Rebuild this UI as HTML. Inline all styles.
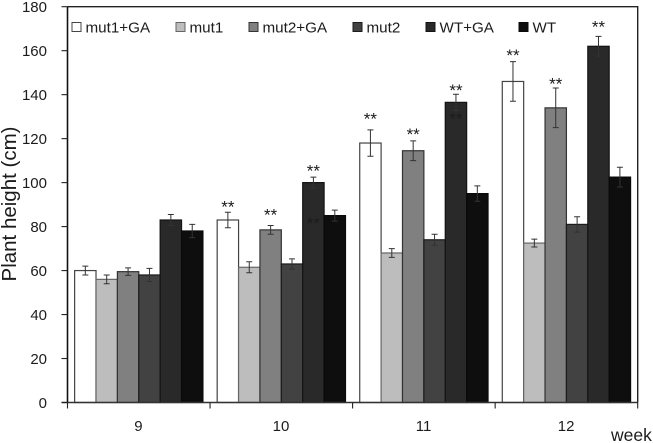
<!DOCTYPE html>
<html lang="en">
<head>
<meta charset="utf-8">
<title>Plant height chart</title>
<style>
html,body{margin:0;padding:0;background:#fff;width:653px;height:443px;overflow:hidden}
svg{display:block;filter:blur(0.35px)}
text{font-family:"Liberation Sans",sans-serif;fill:#1c1c1c}
</style>
</head>
<body>
<svg id="chart" width="653" height="443" viewBox="0 0 653 443" xmlns="http://www.w3.org/2000/svg">
  <g id="bars"></g>
  <g id="errors"></g>
  <g id="stars"></g>
  <g id="axes"></g>
  <g id="legend"></g>
  <text transform="translate(16,204) rotate(-90)" text-anchor="middle" font-size="20.5">Plant height (cm)</text>
  <text x="611" y="441" font-size="17.5">week</text>
</svg>
<script>
const weeks = ['9', '10', '11', '12'];
const seriesNames = ['mut1+GA', 'mut1', 'mut2+GA', 'mut2', 'WT+GA', 'WT'];
const mut1GA = [60, 83, 118, 146];
const mut1 = [56, 61.5, 68, 72.5];
const mut2GA = [59.5, 78.5, 114.5, 134];
const mut2 = [58, 63, 74, 81];
const wtGA = [83, 100, 136.5, 162];
const wt = [78, 85, 95, 102.5];
const mut1GAErr = [2, 3.5, 6, 9];
const mut1Err = [2, 2.5, 2, 1.8];
const mut2GAErr = [1.7, 2, 4.5, 9];
const mut2Err = [3, 2.3, 2.5, 3.5];
const wtGAErr = [2.5, 2.5, 3.7, 4.5];
const wtErr = [3, 2.5, 3.5, 4.5];
const yTicks = [0, 20, 40, 60, 80, 100, 120, 140, 160, 180];
const starWeek = [1, 1, 1, 1, 2, 2, 2, 2, 3, 3, 3];
const starSeries = [0, 2, 4, 4, 0, 2, 4, 4, 0, 2, 4];
const starLevel = [90, 86.5, 106.5, 82.5, 130, 123, 143, 130, 159, 146, 172];

const values = [mut1GA, mut1, mut2GA, mut2, wtGA, wt];
const errs = [mut1GAErr, mut1Err, mut2GAErr, mut2Err, wtGAErr, wtErr];
const fills = ['#ffffff', '#bdbdbd', '#808080', '#424242', '#292929', '#0e0e0e'];
const strokes = ['#444444', '#666666', '#333333', '#1c1c1c', '#141414', '#0a0a0a'];

const SVGNS = 'http://www.w3.org/2000/svg';
const plotLeft = 67.5, plotRight = 637.7, plotTop = 6.7, plotBottom = 402.5;
const yMax = 180;
const yScale = v => plotBottom - (v / yMax) * (plotBottom - plotTop);
const band = (plotRight - plotLeft) / weeks.length;
const barW = band / (seriesNames.length + 2 / 3);
const xBar = (w, s) => plotLeft + w * band + barW / 3 + s * barW;

function mk(parent, tag, attrs) {
  const el = document.createElementNS(SVGNS, tag);
  for (const k in attrs) el.setAttribute(k, attrs[k]);
  parent.appendChild(el);
  return el;
}

const gBars = document.getElementById('bars');
const gErr = document.getElementById('errors');
const gStars = document.getElementById('stars');
const gAxes = document.getElementById('axes');
const gLegend = document.getElementById('legend');

seriesNames.forEach((name, s) => {
  weeks.forEach((wk, w) => {
    const v = values[s][w];
    const x = xBar(w, s);
    const bar = mk(gBars, 'rect', {x: x, y: yScale(v), width: barW, height: plotBottom - yScale(v), fill: fills[s], stroke: strokes[s], 'stroke-width': 1.2});
    
    

    const cx = x + barW / 2, e = errs[s][w];
    const eb = mk(gErr, 'path', {
      d: 'M' + cx + ' ' + yScale(v + e) + 'V' + yScale(v - e) +
         'M' + (cx - 3) + ' ' + yScale(v + e) + 'h6' +
         'M' + (cx - 3) + ' ' + yScale(v - e) + 'h6',
      fill: 'none', stroke: '#333333', 'stroke-width': 1
    });
    
    
  });
});

starWeek.forEach((w, i) => {
  const s = starSeries[i];
  const star = mk(gStars, 'text', {x: xBar(w, s) + barW / 2, y: yScale(starLevel[i]) + 8, 'text-anchor': 'middle', 'font-size': 17});
  
  
  star.textContent = '**';
});

const frame = mk(gAxes, 'path', {d: 'M' + plotLeft + ' ' + plotTop + 'H' + plotRight + 'V' + plotBottom, fill: 'none', stroke: '#222222', 'stroke-width': 1.4});



const yAxis = mk(gAxes, 'line', {x1: plotLeft, x2: plotLeft, y1: plotTop, y2: plotBottom, stroke: '#111111', 'stroke-width': 1.6});



const xAxis = mk(gAxes, 'line', {x1: plotLeft - 6, x2: plotRight, y1: plotBottom, y2: plotBottom, stroke: '#333333', 'stroke-width': 1.4});



yTicks.forEach(t => {
  const tick = mk(gAxes, 'line', {x1: plotLeft - 6, x2: plotLeft, y1: yScale(t), y2: yScale(t), stroke: '#222222', 'stroke-width': 1.1});
  
  
  const label = mk(gAxes, 'text', {x: 47, y: yScale(t) + 5.5, 'text-anchor': 'end', 'font-size': 15});
  
  
  label.textContent = t;
});

for (let i = 0; i <= weeks.length; i++) {
  const x = plotLeft + i * band;
  const tick = mk(gAxes, 'line', {x1: x, x2: x, y1: plotBottom, y2: plotBottom + 6, stroke: '#222222', 'stroke-width': 1.1});
  
  
}
weeks.forEach((wk, w) => {
  const label = mk(gAxes, 'text', {x: plotLeft + (w + 0.5) * band - 0.3, y: 431, 'text-anchor': 'middle', 'font-size': 15});
  
  
  label.textContent = wk;
});

const legendX = [72, 176, 249, 353, 426, 519];
seriesNames.forEach((name, s) => {
  const sw = mk(gLegend, 'rect', {x: legendX[s], y: 22.5, width: 9, height: 9, fill: fills[s], stroke: strokes[s], 'stroke-width': 1});
  
  
  const txt = mk(gLegend, 'text', {x: legendX[s] + 13.5, y: 32.5, 'font-size': 15.2});
  
  
  txt.textContent = name;
});
</script>
</body>
</html>
